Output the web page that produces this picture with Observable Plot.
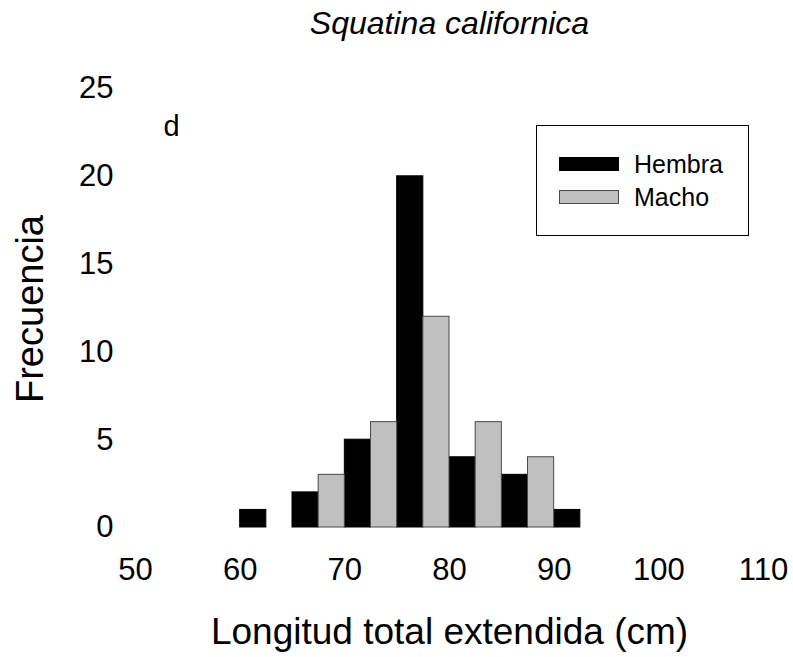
<!DOCTYPE html>
<html>
<head>
<meta charset="utf-8">
<script src="https://cdn.jsdelivr.net/npm/d3@7"></script>
<script src="https://cdn.jsdelivr.net/npm/@observablehq/plot@0.6"></script>
<style>
  body { margin: 0; background: #fff; }
  #chart { position: relative; width: 793px; height: 657px; font-family: "Liberation Sans", Arial, sans-serif; }
  #chart svg { position: absolute; left: 0; top: 0; }
  .legend { position: absolute; left: 536px; top: 125px; width: 211px; height: 109px; border: 1px solid #000; background: #fff; }
  .legend .sw { position: absolute; left: 22px; width: 60px; height: 14px; box-sizing: border-box; }
  .legend .lab { position: absolute; left: 97px; height: 14px; line-height: 14px; font-size: 25px; color: #000; white-space: nowrap; }
</style>
</head>
<body>
<div id="chart"></div>
<script>
// Length classes (cm, lower bound of each 5 cm class) and counts per sex
const clases = [60, 65, 70, 75, 80, 85, 90];
const hembra = [1, 2, 5, 20, 4, 3, 1];
const macho = [0, 3, 6, 12, 6, 4, 0];
const series = ["Hembra", "Macho"];
const colores = ["#000000", "#c0c0c0"];
const bordes = ["#000000", "#4a4a4a"];
const xTicks = [50, 60, 70, 80, 90, 100, 110];
const yTicks = [0, 5, 10, 15, 20, 25];
const titulo = "Squatina californica";
const panel = "d";
const xLabel = "Longitud total extendida (cm)";
const yLabel = "Frecuencia";

// Each class is split in two half-width bars: females left, males right
const half = (clases[1] - clases[0]) / 2;
const filas = clases.flatMap((c, i) => [
  {sexo: series[0], x1: c, x2: c + half, n: hembra[i]},
  {sexo: series[1], x1: c + half, x2: c + 2 * half, n: macho[i]}
]).filter(d => d.n > 0);

const plot = Plot.plot({
  width: 793,
  height: 657,
  marginLeft: 135,
  marginRight: 30,
  marginTop: 88,
  marginBottom: 130,
  style: {fontFamily: "'Liberation Sans', Arial, sans-serif", background: "transparent", color: "#000"},
  x: {domain: [50, 110]},
  y: {domain: [0, 25]},
  marks: [
    Plot.rectY(filas.filter(d => d.sexo === series[0]), {x1: "x1", x2: "x2", y: "n", fill: colores[0], stroke: bordes[0], strokeWidth: 1}),
    Plot.rectY(filas.filter(d => d.sexo === series[1]), {x1: "x1", x2: "x2", y: "n", fill: colores[1], stroke: bordes[1], strokeWidth: 1}),
    Plot.axisX(xTicks, {tickSize: 0, tickPadding: 30, fontSize: 31, label: null}),
    Plot.axisY(yTicks, {tickSize: 0, tickPadding: 22, fontSize: 31, label: null}),
    Plot.text([titulo], {frameAnchor: "top", dy: -55, lineAnchor: "bottom", fontSize: 32, fontStyle: "italic"}),
    Plot.text([panel], {frameAnchor: "top-left", dx: 28, dy: 47, textAnchor: "start", lineAnchor: "bottom", fontSize: 29}),
    Plot.text([xLabel], {frameAnchor: "bottom", dy: 116, lineAnchor: "bottom", fontSize: 37}),
    Plot.text([yLabel], {frameAnchor: "left", dx: -93, dy: 95, rotate: -90, lineAnchor: "bottom", fontSize: 38})
  ]
});

const chart = document.getElementById("chart");
chart.appendChild(plot);

// Legend box
const legend = document.createElement("div");
legend.className = "legend";
series.forEach((s, i) => {
  const top = 31 + i * 33;
  const sw = document.createElement("div");
  sw.className = "sw";
  sw.style.top = top + "px";
  sw.style.background = colores[i];
  sw.style.border = "1px solid " + bordes[i];
  legend.appendChild(sw);
  const lab = document.createElement("div");
  lab.className = "lab";
  lab.style.top = top + "px";
  lab.textContent = s;
  legend.appendChild(lab);
});
chart.appendChild(legend);
</script>
</body>
</html>
